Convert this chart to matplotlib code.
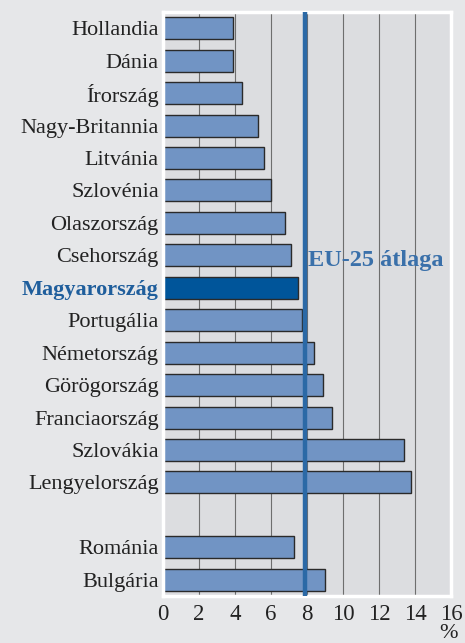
import matplotlib
matplotlib.use("Agg")
import matplotlib.pyplot as plt

countries = ["Hollandia", "Dánia", "Írország", "Nagy-Britannia", "Litvánia",
             "Szlovénia", "Olaszország", "Csehország", "Magyarország",
             "Portugália", "Németország", "Görögország", "Franciaország",
             "Szlovákia", "Lengyelország", "Románia", "Bulgária"]
values = [3.9, 3.9, 4.4, 5.3, 5.6, 6.0, 6.8, 7.1, 7.5, 7.7, 8.4, 8.9, 9.4,
          13.4, 13.8, 7.3, 9.0]
positions = list(range(15)) + [16, 17]
eu_avg = 7.9
highlight = "Magyarország"
xticks = [0, 2, 4, 6, 8, 10, 12, 14, 16]

plt.rcParams["font.family"] = ["Liberation Serif", "DejaVu Serif"]

fig = plt.figure(figsize=(4.65, 6.43), dpi=100, facecolor="#e6e7e9")
ax = fig.add_axes([163 / 465, 47 / 643, 288 / 465, 584 / 643])
ax.set_facecolor("#dcdde0")

colors = ["#00559a" if c == highlight else "#7194c4" for c in countries]
ax.barh(positions, values, height=0.68, color=colors, edgecolor="#2a2a2a",
        linewidth=1.0, zorder=2)
ax.axvline(eu_avg, color="#2b69a6", linewidth=3.2, zorder=3)
ax.text(eu_avg + 0.15, 7.15, "EU-25 átlaga", color="#3a70aa", fontsize=17.5,
        fontweight="bold", va="center", ha="left", zorder=4)

ax.set_xlim(0, 16)
ax.set_ylim(17.5, -0.5)
ax.set_xticks(xticks)
ax.set_xticklabels([str(t) for t in xticks], fontsize=16.5, color="#222222")
ax.set_yticks(positions)
ax.set_yticklabels(countries, fontsize=16, color="#222222")
for lbl in ax.get_yticklabels():
    if lbl.get_text() == highlight:
        lbl.set_color("#1f5e9c")
        lbl.set_fontweight("bold")
ax.tick_params(length=0, pad=3)
ax.tick_params(axis="x", pad=6)
ax.grid(axis="x", color="#6e6e6e", linewidth=0.8, zorder=1)
ax.set_axisbelow(True)
for s in ax.spines.values():
    s.set_color("white")
    s.set_linewidth(2.5)

fig.text(448 / 465, 0, "%", fontsize=16, color="#222222",
         ha="center", va="bottom")

fig.savefig("out.png", dpi=100, facecolor=fig.get_facecolor())
